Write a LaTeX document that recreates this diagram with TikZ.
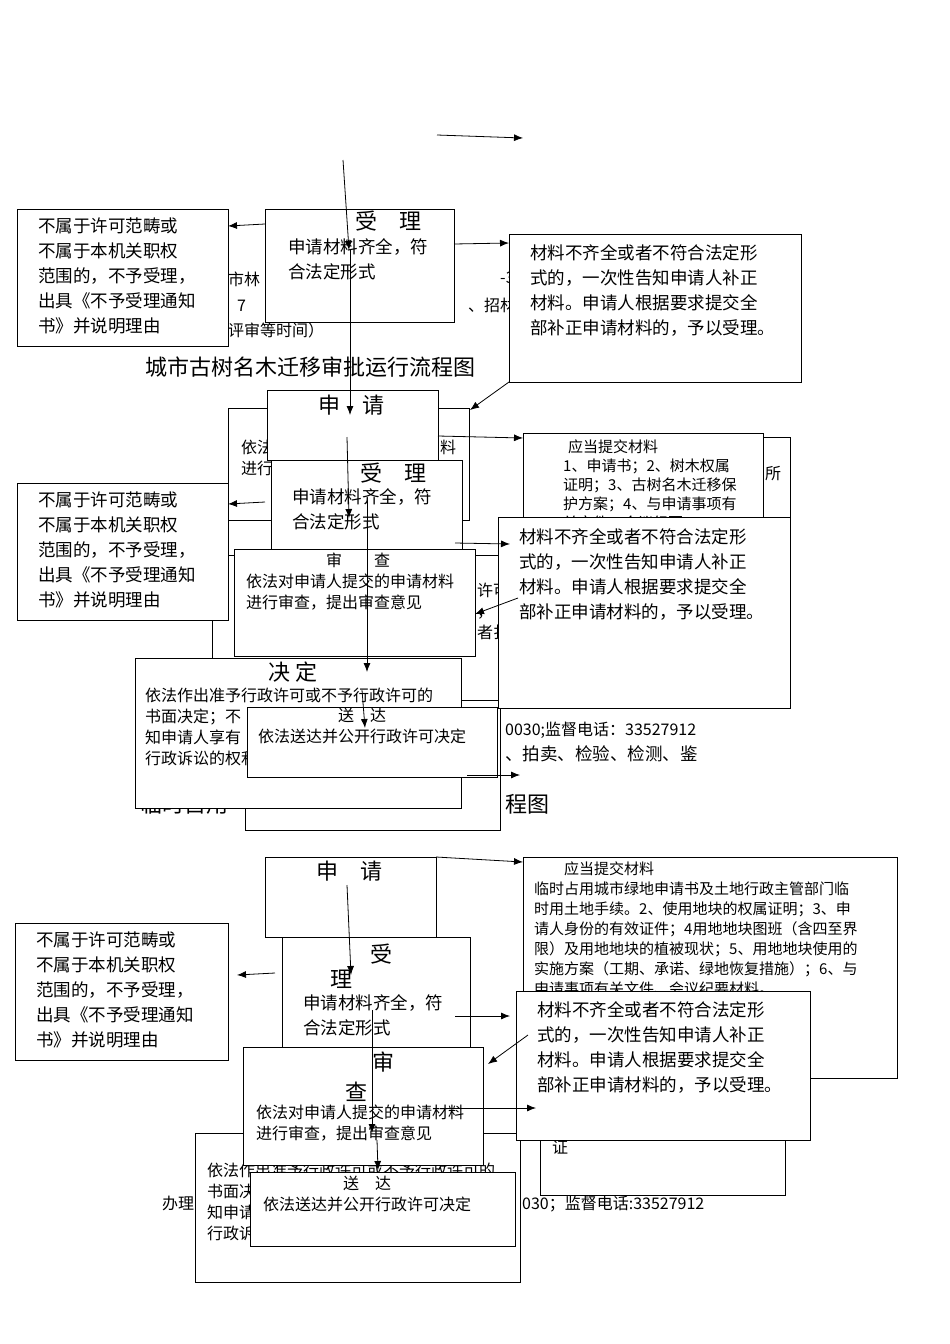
\documentclass[tikz,border=0pt]{standalone}
\usepackage{fontspec}
\usetikzlibrary{arrows.meta}
\setmainfont{Liberation Serif}
\newfontfamily\cjk{Noto Sans CJK SC}
\XeTeXlinebreaklocale "zh"
\XeTeXlinebreakskip=0pt plus 1pt
\begin{document}
\begin{tikzpicture}[x=1pt,y=-1pt,
 bx/.style={draw,fill=white,line width=0.8pt},
 tx/.style={anchor=north west,inner sep=0pt,align=left,font=\cjk\fontsize{16}{21}\selectfont},
 big/.style={anchor=north west,inner sep=0pt,align=left,font=\cjk\fontsize{17.5}{25}\selectfont},
 ttl/.style={anchor=north west,inner sep=0pt,font=\cjk\fontsize{22}{26}\selectfont},
 ar/.style={-{Latex[length=9pt,width=7pt]},line width=0.8pt}]
\useasboundingbox (0,0) rectangle (950,1344);
\fill[white] (0,0) rectangle (950,1344);
% ---------- Section 1 ----------
\node[tx] (f1) at (228,272) {市林};
\node[tx] (f2) at (500,272) {-32280};
\node[tx] (f3) at (205,298) {限：7};
\node[tx] (f4) at (468,298) {、招材};
\node[tx] (f5) at (228,323) {评审等时间）};
\node[anchor=north west,inner sep=0pt,font=\cjk\fontsize{22}{26}\selectfont] (t1) at (145,357) {城市古树名木迁移审批运行流程图};
\draw[bx] (17,209) rectangle (228,346);
\node[big] (n1) at (38,218) {不属于许可范畴或\\不属于本机关职权\\范围的，不予受理，\\出具《不予受理通知\\书》并说明理由};
\draw[bx] (265,209) rectangle (454,322);
\node[ttl] (s1) at (355,211) {受\quad 理};
\node[big] (s1t) at (288,238) {申请材料齐全，符\\合法定形式};
\draw[bx] (509,234) rectangle (801,382);
\node[big] (m1) at (530,244) {材料不齐全或者不符合法定形\\式的，一次性告知申请人补正\\材料。申请人根据要求提交全\\部补正申请材料的，予以受理。};
\coordinate (a0) at (437,135); \coordinate (a0e) at (523,138);
\draw[ar] (a0) -- (a0e);
\coordinate (a1) at (343,160); \coordinate (a1e) at (349,250);
\draw[ar] (a1) -- (a1e);
\coordinate (a2) at (265,224); \coordinate (a2e) at (228,226);
\draw[ar] (a2) -- (a2e);
\coordinate (a3) at (454,244); \coordinate (a3e) at (509,243);
\draw[ar] (a3) -- (a3e);
% ---------- Section 2 ----------
\draw[bx] (245,700) rectangle (500,830);
\node[tx] (f6) at (505,722) {0030;监督电话：33527912};
\node[big] (f7) at (505,745) {、拍卖、检验、检测、鉴};
\node[anchor=north west,inner sep=0pt,font=\cjk\fontsize{22}{26}\selectfont] (t2) at (505,794) {程图};
\node[anchor=north west,inner sep=0pt,font=\cjk\fontsize{22}{26}\selectfont] (t3) at (140,794) {临时占用};
\draw[bx] (212,555) rectangle (500,700);
\draw[bx] (228,408) rectangle (469,520);
\node[tx] (f8) at (241,440) {依法\\进行};
\node[tx] (f9) at (440,440) {料};
\draw[bx] (540,437) rectangle (790,520);
\node[tx] (f10) at (765,466) {所};
\draw[bx] (523,433) rectangle (763,520);
\node[tx,font=\cjk\fontsize{15}{19}\selectfont] (q2) at (563,440) {\hspace*{5pt}应当提交材料\\1、申请书；2、树木权属\\证明；3、古树名木迁移保\\护方案；4、与申请事项有\\关文件、会议纪要};
\draw[bx] (267,390) rectangle (438,460);
\node[ttl] (p2) at (318,395) {申\quad 请};
\draw[bx] (271,460) rectangle (462,560);
\node[ttl] (s2) at (360,463) {受\quad 理};
\node[big] (s2t) at (292,488) {申请材料齐全，符\\合法定形式};
\draw[bx] (17,483) rectangle (228,620);
\node[big] (n2) at (38,492) {不属于许可范畴或\\不属于本机关职权\\范围的，不予受理，\\出具《不予受理通知\\书》并说明理由};
\draw[bx] (234,549) rectangle (475,656);
\node[tx] (r2) at (246,553) {\hspace*{80pt}审\qquad 查\\依法对申请人提交的申请材料\\进行审查，提出审查意见};
\node[tx] (f11) at (477,583) {许可\\，\\者扌};
\draw[bx] (498,517) rectangle (790,708);
\node[big] (m2) at (519,528) {材料不齐全或者不符合法定形\\式的，一次性告知申请人补正\\材料。申请人根据要求提交全\\部补正申请材料的，予以受理。};
\draw[bx] (135,658) rectangle (461,808);
\node[ttl] (d2) at (268,662) {决\ 定};
\node[tx] (d2t) at (145,688) {依法作出准予行政许可或不予行政许可的\\书面决定；不\\知申请人享有\\行政诉讼的权利};
\draw[bx] (247,707) rectangle (497,777);
\node[tx] (g2) at (258,708) {\hspace*{80pt}送\quad 达\\依法送达并公开行政许可决定};
\coordinate (b1) at (438,436); \coordinate (b1e) at (523,438);
\draw[ar] (b1) -- (b1e);
\coordinate (b0) at (509,382); \coordinate (b0e) at (470,410);
\draw[ar] (b0) -- (b0e);
\coordinate (b2) at (350,250); \coordinate (b2e) at (350,415);
\draw[ar] (b2) -- (b2e);
\coordinate (b3) at (347,437); \coordinate (b3e) at (349,518);
\draw[ar] (b3) -- (b3e);
\coordinate (b4) at (265,502); \coordinate (b4e) at (228,504);
\draw[ar] (b4) -- (b4e);
\coordinate (b5) at (455,543); \coordinate (b5e) at (510,544);
\draw[ar] (b5) -- (b5e);
\coordinate (b6) at (518,598); \coordinate (b6e) at (475,614);
\draw[ar] (b6) -- (b6e);
\coordinate (b7) at (367,500); \coordinate (b7e) at (367,672);
\draw[ar] (b7) -- (b7e);
\coordinate (b9) at (362,690); \coordinate (b9e) at (365,728);
\draw[ar] (b9) -- (b9e);
\coordinate (b10) at (467,775); \coordinate (b10e) at (520,775);
\draw[ar] (b10) -- (b10e);
% ---------- Section 3 ----------
\draw[bx] (523,857) rectangle (897,1078);
\node[tx,font=\cjk\fontsize{15}{20}\selectfont] (q3) at (534,862) {\hspace*{30pt}应当提交材料\\临时占用城市绿地申请书及土地行政主管部门临\\时用土地手续。2、使用地块的权属证明；3、申\\请人身份的有效证件；4用地地块图班（含四至界\\限）及用地地块的植被现状；5、用地地块使用的\\实施方案（工期、承诺、绿地恢复措施）；6、与\\申请事项有关文件、会议纪要材料。};
\draw[bx] (540,1120) rectangle (785,1195);
\node[tx] (f12) at (552,1140) {证};
\node[tx] (f13) at (162,1196) {办理};
\node[tx] (f14) at (522,1196) {030；监督电话:33527912};
\draw[bx] (195,1133) rectangle (520,1282);
\node[tx] (d3t) at (207,1163) {依法作出准予行政许可或不予行政许可的\\书面决\\知申请\\行政诉};
\draw[bx] (265,857) rectangle (436,937);
\node[ttl] (p3) at (316,861) {申\quad 请};
\draw[bx] (15,923) rectangle (228,1060);
\node[big] (n3) at (36,932) {不属于许可范畴或\\不属于本机关职权\\范围的，不予受理，\\出具《不予受理通知\\书》并说明理由};
\draw[bx] (282,937) rectangle (470,1050);
\node[ttl] (s3) at (370,944) {受};
\node[ttl] (s3b) at (330,970) {理};
\node[big] (s3t) at (303,994) {申请材料齐全，符\\合法定形式};
\draw[bx] (516,991) rectangle (810,1140);
\node[big] (m3) at (537,1001) {材料不齐全或者不符合法定形\\式的，一次性告知申请人补正\\材料。申请人根据要求提交全\\部补正申请材料的，予以受理。};
\draw[bx] (243,1047) rectangle (483,1165);
\node[ttl] (r3) at (372,1052) {审};
\node[ttl] (r3b) at (345,1082) {查};
\node[tx] (r3t) at (256,1105) {依法对申请人提交的申请材料\\进行审查，提出审查意见};
\draw[bx] (250,1172) rectangle (515,1246);
\node[tx] (g3) at (263,1176) {\hspace*{80pt}送\quad 达\\依法送达并公开行政许可决定};
\coordinate (c1) at (436,857); \coordinate (c1e) at (523,862);
\draw[ar] (c1) -- (c1e);
\coordinate (c2) at (347,885); \coordinate (c2e) at (351,975);
\draw[ar] (c2) -- (c2e);
\coordinate (c3) at (275,973); \coordinate (c3e) at (237,975);
\draw[ar] (c3) -- (c3e);
\coordinate (c4) at (455,1016); \coordinate (c4e) at (510,1016);
\draw[ar] (c4) -- (c4e);
\coordinate (c5) at (528,1035); \coordinate (c5e) at (488,1064);
\draw[ar] (c5) -- (c5e);
\coordinate (c6) at (372,1010); \coordinate (c6e) at (372,1133);
\draw[ar] (c6) -- (c6e);
\coordinate (c7) at (440,1108); \coordinate (c7e) at (536,1108);
\draw[ar] (c7) -- (c7e);
\coordinate (c8) at (377,1140); \coordinate (c8e) at (378,1170);
\draw[ar] (c8) -- (c8e);
\end{tikzpicture}
\end{document}
